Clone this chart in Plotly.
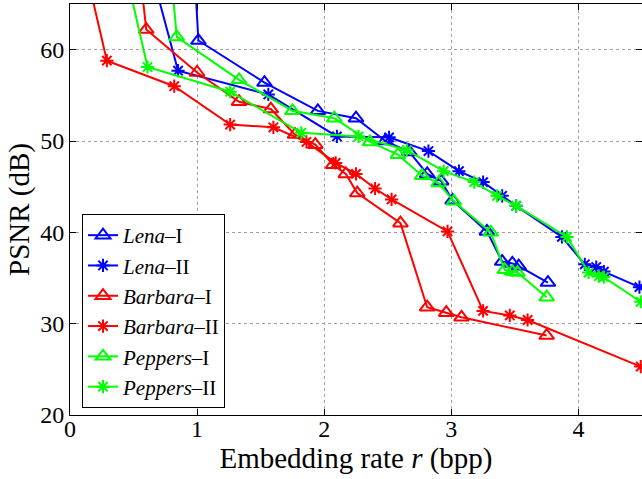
import plotly.graph_objects as go

# Embedding rate (bpp) and PSNR (dB) for each image / method
lena1_x = [0.99, 1.01, 1.53, 1.95, 2.25, 2.48, 2.67, 2.81, 2.92, 3.01, 3.28, 3.40, 3.48, 3.53, 3.76]
lena1_y = [66.0, 61.0, 56.4, 53.3, 52.5, 50.0, 48.8, 46.4, 45.6, 43.5, 40.1, 36.8, 36.6, 36.3, 34.5]

lena2_x = [0.69, 0.85, 1.56, 2.10, 2.51, 2.82, 3.06, 3.25, 3.40, 3.51, 3.87, 4.05, 4.14, 4.20, 4.48]
lena2_y = [66.0, 57.7, 55.1, 50.5, 50.4, 48.9, 46.7, 45.5, 44.0, 42.9, 39.5, 36.5, 36.2, 35.7, 34.0]

barbara1_x = [0.57, 0.60, 1.00, 1.33, 1.58, 1.77, 1.93, 2.07, 2.17, 2.26, 2.60, 2.81, 2.96, 3.08, 3.75]
barbara1_y = [66.0, 62.2, 57.5, 54.3, 53.5, 50.7, 49.6, 47.4, 46.4, 44.3, 41.0, 31.8, 31.2, 30.7, 28.7]

barbara2_x = [0.17, 0.29, 0.82, 1.26, 1.60, 1.86, 2.09, 2.25, 2.40, 2.53, 2.97, 3.25, 3.46, 3.60, 4.49]
barbara2_y = [66.0, 58.8, 56.0, 51.8, 51.5, 49.9, 47.6, 46.4, 44.8, 43.6, 40.1, 31.4, 30.9, 30.4, 25.3]

peppers1_x = [0.81, 0.84, 1.33, 1.75, 2.08, 2.36, 2.58, 2.77, 2.90, 3.02, 3.31, 3.42, 3.48, 3.52, 3.75]
peppers1_y = [66.0, 61.4, 56.7, 53.3, 52.5, 49.9, 48.5, 46.2, 45.4, 43.4, 40.0, 35.9, 35.7, 35.6, 32.9]

peppers2_x = [0.48, 0.61, 1.26, 1.82, 2.27, 2.65, 2.94, 3.18, 3.36, 3.51, 3.91, 4.08, 4.16, 4.20, 4.49]
peppers2_y = [66.0, 58.1, 55.4, 50.9, 50.5, 49.0, 46.7, 45.5, 44.0, 42.9, 39.5, 35.6, 35.2, 35.1, 32.4]

x_ticks = [0, 1, 2, 3, 4]
y_ticks = [20, 30, 40, 50, 60]

FONT = "Liberation Serif"
BLUE, RED, GREEN = "#0000ff", "#ff0000", "#00ff00"

series = [
    ("<i>Lena</i>–I", lena1_x, lena1_y, BLUE, "triangle-up-open"),
    ("<i>Lena</i>–II", lena2_x, lena2_y, BLUE, "asterisk-open"),
    ("<i>Barbara</i>–I", barbara1_x, barbara1_y, RED, "triangle-up-open"),
    ("<i>Barbara</i>–II", barbara2_x, barbara2_y, RED, "asterisk-open"),
    ("<i>Peppers</i>–I", peppers1_x, peppers1_y, GREEN, "triangle-up-open"),
    ("<i>Peppers</i>–II", peppers2_x, peppers2_y, GREEN, "asterisk-open"),
]

fig = go.Figure()
for name, xs, ys, color, sym in series:
    tri = sym.startswith("triangle")
    fig.add_trace(go.Scatter(
        x=xs, y=ys, name=name, mode="lines+markers",
        line=dict(color=color, width=2),
        marker=dict(symbol=sym, size=13 if tri else 11, color=color,
                    line=dict(color=color, width=2)),
    ))

axis_common = dict(
    showline=True, linecolor="black", linewidth=1, mirror="ticks",
    ticks="inside", ticklen=6, tickcolor="black",
    showgrid=True, gridcolor="#a0a0a0", griddash="dot", gridwidth=1,
    zeroline=False,
    tickfont=dict(family=FONT, size=24, color="black"),
)

fig.update_layout(
    width=642, height=479,
    margin=dict(l=70, r=0, t=4, b=64),
    paper_bgcolor="white", plot_bgcolor="white",
    font=dict(family=FONT, color="black"),
    xaxis=dict(range=[0, 4.5], tickvals=x_ticks, ticklabelstandoff=-8,
               title=dict(text="Embedding rate <i>r</i> (bpp)",
                          font=dict(family=FONT, size=29), standoff=0),
               **axis_common),
    yaxis=dict(range=[20, 65], tickvals=y_ticks,
               title=dict(text="PSNR (dB)", font=dict(family=FONT, size=29),
                          standoff=2),
               **axis_common),
    legend=dict(x=0.021, y=0.017, xanchor="left", yanchor="bottom",
                bgcolor="white", bordercolor="black", borderwidth=1,
                font=dict(family=FONT, size=21), tracegroupgap=0,
                itemwidth=30),
)

fig.write_html("out.html")
